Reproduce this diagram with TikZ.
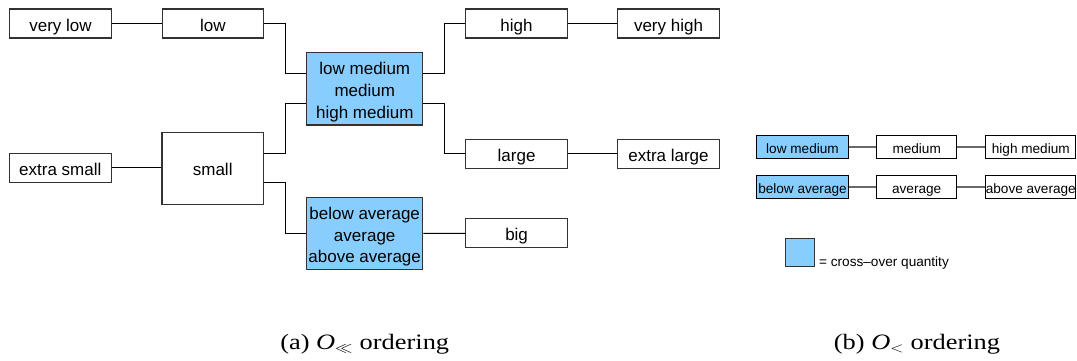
\documentclass[tikz,border=0pt]{standalone}
\usepackage{fontspec}
\setmainfont{Liberation Sans}
\newfontfamily\capfont{Liberation Serif}
\usetikzlibrary{calc}
\definecolor{crossblue}{RGB}{135,206,255}
\definecolor{boxline}{RGB}{50,50,50}
\definecolor{linkgray}{RGB}{105,105,105}
% three centred lines, lowered slightly so they sit centred in the box
\newcommand{\qstack}[1]{\smash{\raisebox{-7.5pt}{\begin{tabular}{@{}c@{}}#1\end{tabular}}}}
\tikzset{
  qbox/.style={draw=boxline, line width=1.1pt, fill=white, inner sep=0pt,
    font=\fontsize{17}{21.8}\selectfont, text height=15pt, text depth=0pt},
  narrowbox/.style={qbox, minimum width=101.5pt, minimum height=29pt},
  tallbox/.style={qbox, minimum width=101.5pt, minimum height=72pt},
  crossbox/.style={draw=boxline, line width=1.1pt, fill=crossblue, inner sep=0pt,
    font=\fontsize{17}{21.8}\selectfont, minimum width=116pt, minimum height=72.5pt},
  link/.style={draw=black, line width=1pt},
  sbox/.style={draw=black, line width=1pt, fill=white, inner sep=0pt,
    minimum height=22.6pt, font=\fontsize{13.6}{16}\selectfont,
    text height=12.4pt, text depth=0pt},
  sgrey/.style={draw=linkgray, line width=2pt},
  caption/.style={inner sep=0pt, anchor=base, font=\capfont\fontsize{22}{26}\selectfont}
}
\begin{document}
\begin{tikzpicture}[x=1pt, y=-1pt]
\useasboundingbox (0,0) rectangle (1077,360);

% (a) ordering with cross-over quantities
\node[narrowbox] (vlow)   at (60.5,23.5)  {very low};
\node[narrowbox] (low)    at (212.8,23.5) {low};
\node[narrowbox] (xsmall) at (60.3,167.8) {extra small};
\node[tallbox]   (small)  at (212.7,168.3) {small};
\node[crossbox]  (lowmed) at (364.8,88.7) {\qstack{low medium\\medium\\high medium}};
\node[crossbox]  (avgq)   at (364.7,233.5) {\qstack{below average\\average\\above average}};
\node[narrowbox] (high)   at (516.5,23.5)  {high};
\node[narrowbox] (vhigh)  at (668.5,23.5)  {very high};
\node[narrowbox] (large)  at (516.6,153.8) {large};
\node[narrowbox] (xlarge) at (668.5,153.8) {extra large};
\node[narrowbox] (big)    at (516.6,233.3) {big};

% attachment points on the sides of the taller boxes
\coordinate (lmWa) at ($(lowmed.north west)!0.3!(lowmed.south west)$);
\coordinate (lmWb) at ($(lowmed.north west)!0.7!(lowmed.south west)$);
\coordinate (lmEa) at ($(lowmed.north east)!0.3!(lowmed.south east)$);
\coordinate (lmEb) at ($(lowmed.north east)!0.7!(lowmed.south east)$);
\coordinate (smEa) at ($(small.north east)!0.3!(small.south east)$);
\coordinate (smEb) at ($(small.north east)!0.7!(small.south east)$);

\draw[link] (vlow) -- (low);
\draw[link] (xsmall) -- (xsmall -| small.west);
\draw[link] (low.east) -| ($(low.east)!0.5!(lmWa)$) |- (lmWa);
\draw[link] (smEa) -| ($(smEa)!0.5!(lmWb)$) |- (lmWb);
\draw[link] (smEb) -| ($(smEb)!0.5!(avgq.west)$) |- (avgq.west);
\draw[link] (lmEa) -| ($(lmEa)!0.5!(high.west)$) |- (high.west);
\draw[link] (lmEb) -| ($(lmEb)!0.5!(large.west)$) |- (large.west);
\draw[link] (high) -- (vhigh);
\draw[link] (large) -- (xlarge);
\draw[link] (avgq) -- (big);

% (b) ordering
\node[sbox, fill=crossblue, minimum width=91.6pt] (lm2)  at (802.5,147) {low medium};
\node[sbox, minimum width=80pt]                   (med2) at (916.7,147) {medium};
\node[sbox, minimum width=90.3pt]                 (hm2)  at (1030.8,147) {high medium};
\node[sbox, fill=crossblue, minimum width=91.6pt] (ba2)  at (802.5,187) {below average};
\node[sbox, minimum width=80pt]                   (av2)  at (916.7,187) {average};
\node[sbox, minimum width=90.3pt]                 (aa2)  at (1030.8,187) {above average};
\draw[sgrey] (lm2) -- (med2);
\draw[sgrey] (med2) -- (hm2);
\draw[sgrey] (ba2) -- (av2);
\draw[sgrey] (av2) -- (aa2);

% legend
\node[draw=boxline, line width=1pt, fill=crossblue, inner sep=0pt,
      minimum width=29pt, minimum height=28.4pt] (key) at (799.5,252.5) {};
\node[anchor=base west, inner sep=0pt, font=\fontsize{13.6}{16}\selectfont]
      (keytext) at (819,266.5) {= cross--over quantity};

% captions
\node[caption] (capa) at (364.7,349) {\scalebox{1.2}[1]{(a) \textit{O}$_{\ll}$ ordering}};
\node[caption] (capb) at (917,349) {\scalebox{1.2}[1]{(b) \textit{O}$_{<}$ ordering}};
\end{tikzpicture}
\end{document}
